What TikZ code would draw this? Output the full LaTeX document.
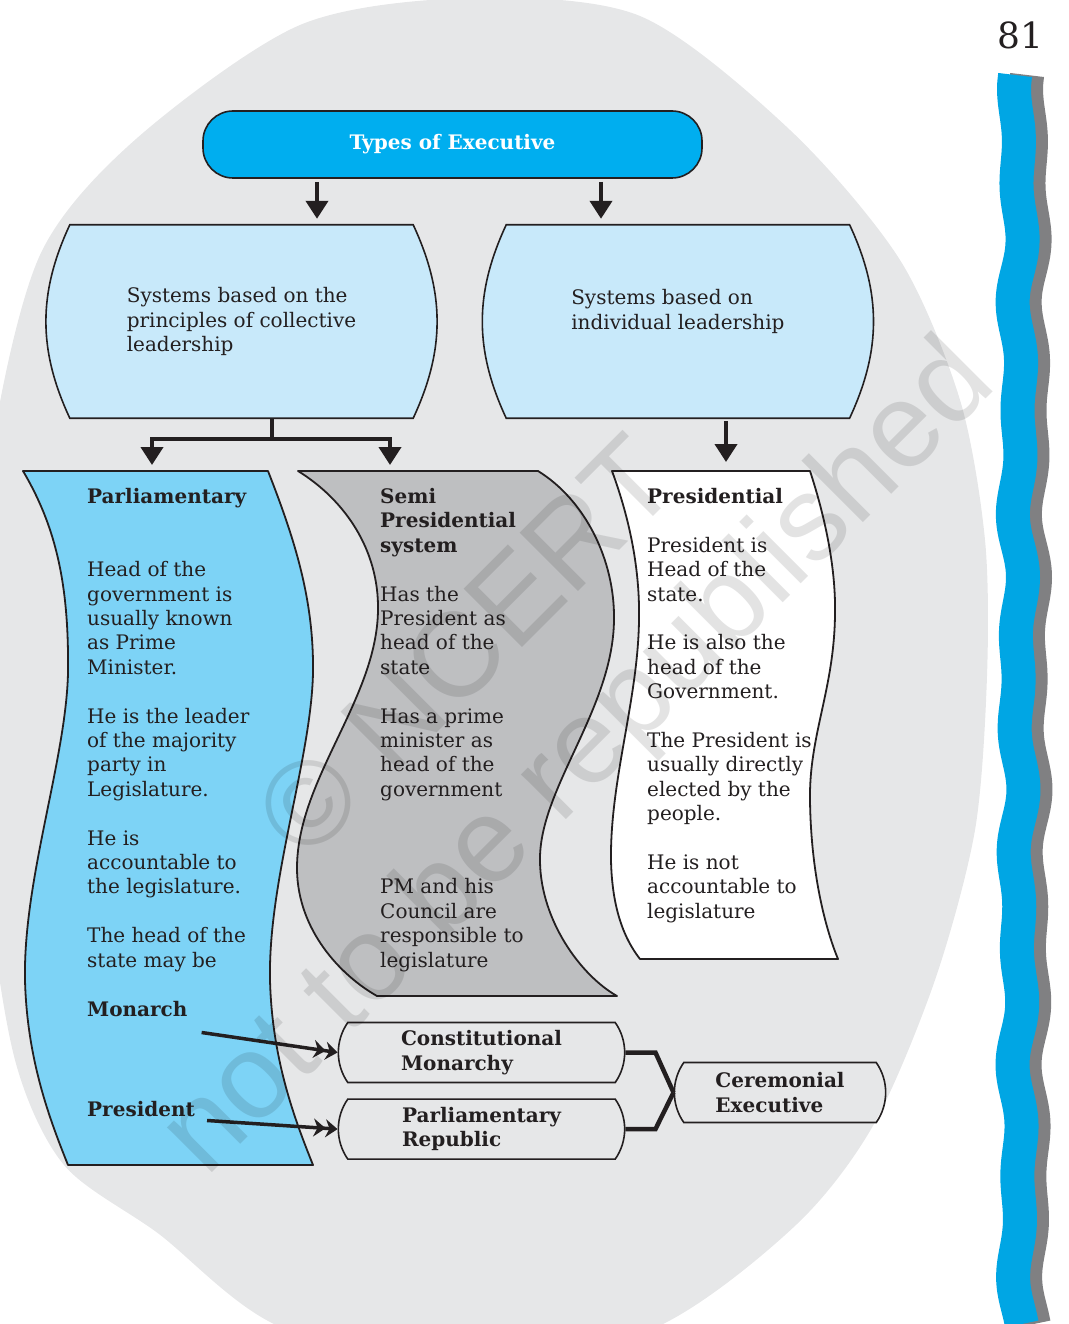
\documentclass[tikz,border=0pt]{standalone}
\usepackage{fontspec}
\setmainfont{DejaVu Serif}
\newfontfamily\markfont{Liberation Sans}
\usetikzlibrary{arrows.meta, calc, positioning, shapes.misc, backgrounds}

\definecolor{bggray}{RGB}{230,231,232}
\definecolor{inkdark}{RGB}{35,31,32}
\definecolor{titlecyan}{RGB}{0,174,239}
\definecolor{boxblue}{RGB}{200,233,250}
\definecolor{parlblue}{RGB}{125,211,246}
\definecolor{semigray}{RGB}{190,191,193}
\definecolor{stripblue}{RGB}{0,166,228}
\definecolor{stripgray}{RGB}{128,128,130}

\begin{document}
\begin{tikzpicture}[x=1pt, y=-1pt, font=\fontsize{20}{24.4}\selectfont, text=inkdark,
    arr/.style={draw=inkdark, line width=4pt, -{Triangle[length=18pt,width=22pt]}},
    dblarr/.style={draw=inkdark, line width=3.5pt, -{Stealth[length=12pt,width=18pt,inset=4pt] Stealth[length=12pt,width=18pt,inset=4pt]}},
    sysbox/.style={rectangle, minimum width=343pt, minimum height=193pt, align=left},
    smallbox/.style={draw=inkdark, line width=1.6pt, rounded rectangle, rounded rectangle arc length=70, minimum height=60pt, align=left, font=\fontsize{20}{24.4}\selectfont\bfseries},
    wave/.style={draw=inkdark, line width=1.8pt, line join=round},
    wavetext/.style={anchor=north west, inner sep=0pt, align=left}]
    \useasboundingbox (0,0) rectangle (1068,1324);

    % Background
    \begin{scope}[on background layer]
        \clip (0,0) rectangle (1068,1324);
        \fill[bggray] plot[smooth cycle] coordinates {(470,-2) (640,16) (790,130) (900,260) (960,400) (985,540) (987,676) (975,830) (935,980) (874,1124) (797,1224) (663,1324) (470,1385) (274,1324) (159,1234) (64,1165) (15,1060) (-12,880) (-15,650) (-8,450) (40,255) (136,139) (300,25)};
    \end{scope}

    % Page number and side strip
    \node[font=\fontsize{36}{36}\selectfont] (pagenum) at (1020,35) {81};
    \draw[line width=34pt, stripgray] plot[smooth, domain=75:1324, samples=140] ({1030+3*sin(3.3*\x)+2.5*sin(1.9*\x+40)}, \x);
    \draw[line width=34pt, stripblue] plot[smooth, domain=75:1324, samples=140] ({1018+3*sin(3.3*\x)+2.5*sin(1.9*\x+40)}, \x);

    % Top box
    \node[draw=inkdark, line width=1.6pt, fill=titlecyan, rounded corners=30pt, minimum width=499pt, minimum height=67pt, text=white, font=\fontsize{20}{24.4}\selectfont\bfseries] (title) at (452.5,144.5) {Types of Executive};

    % Second row
    \node[sysbox] (collective) at (241.5,321.5) {Systems based on the\\principles of collective\\leadership};
    \node[sysbox, right=93pt of collective] (individual) {Systems based on\\individual leadership\\\mbox{}};
    \begin{scope}[on background layer]
        \filldraw[draw=inkdark, line width=1.6pt, fill=boxblue] (collective.north west) -- (collective.north east) to[bend left=25] (collective.south east) -- (collective.south west) to[bend left=25] (collective.north west) -- cycle;
        \filldraw[draw=inkdark, line width=1.6pt, fill=boxblue] (individual.north west) -- (individual.north east) to[bend left=25] (individual.south east) -- (individual.south west) to[bend left=25] (individual.north west) -- cycle;
    \end{scope}

    \coordinate (t1) at ([xshift=-135.5pt]title.south);
    \coordinate (t2) at ([xshift=148.5pt]title.south);
    \draw[arr, shorten <=3pt, shorten >=6pt] (t1) -- (t1 |- collective.north);
    \draw[arr, shorten <=3pt, shorten >=6pt] (t2) -- (t2 |- individual.north);

    % Parliamentary
    \filldraw[wave, fill=parlblue] (23,471) -- (268,471)
        .. controls (295,540) and (314,600) .. (313,673)
        .. controls (311,760) and (268,880) .. (270,980)
        .. controls (272,1060) and (295,1120) .. (313,1165)
        -- (68,1165)
        .. controls (50,1120) and (27,1060) .. (25,980)
        .. controls (23,880) and (66,760) .. (68,673)
        .. controls (69,590) and (58,530) .. (23,471) -- cycle;
    \coordinate (parltop) at (152,471);
    \node[wavetext] (parltext) at (87,488) {\textbf{Parliamentary}\\[48.8pt]
        Head of the\\government is\\usually known\\as Prime\\Minister.\\[24.4pt]
        He is the leader\\of the majority\\party in\\Legislature.\\[24.4pt]
        He is\\accountable to\\the legislature.\\[24.4pt]
        The head of the\\state may be};
    \node[anchor=base west, inner sep=0pt, font=\fontsize{20}{24.4}\selectfont\bfseries] (monarch) at (87,1016) {Monarch};
    \node[anchor=base west, inner sep=0pt, font=\fontsize{20}{24.4}\selectfont\bfseries] (president) at (87,1116) {President};

    % Semi presidential
    \filldraw[wave, fill=semigray] (298,471) -- (538,471)
        .. controls (585,500) and (615,560) .. (614,620)
        .. controls (613,710) and (538,790) .. (540,862)
        .. controls (541,920) and (580,975) .. (617,996)
        -- (377,996)
        .. controls (340,975) and (298,930) .. (297,870)
        .. controls (296,780) and (377,700) .. (378,610)
        .. controls (379,550) and (345,500) .. (298,471) -- cycle;
    \coordinate (semitop) at (390,471);
    \node[wavetext] (semitext) at (380,488) {\textbf{Semi}\\\textbf{Presidential}\\\textbf{system}\\[24.4pt]
        Has the\\President as\\head of the\\state\\[24.4pt]
        Has a prime\\minister as\\head of the\\government\\[73.2pt]
        PM and his\\Council are\\responsible to\\legislature};

    % Presidential
    \filldraw[wave, fill=white] (612,471) -- (810,471)
        .. controls (826,520) and (836,570) .. (835,615)
        .. controls (834,690) and (809,735) .. (810,800)
        .. controls (811,880) and (828,935) .. (838,959)
        -- (640,959)
        .. controls (625,940) and (612,910) .. (611,860)
        .. controls (610,780) and (638,700) .. (639,620)
        .. controls (640,570) and (630,520) .. (612,471) -- cycle;
    \coordinate (prestop) at (726,471);
    \node[wavetext] (prestext) at (647,488) {\textbf{Presidential}\\[24.4pt]
        President is\\Head of the\\state.\\[24.4pt]
        He is also the\\head of the\\Government.\\[24.4pt]
        The President is\\usually directly\\elected by the\\people.\\[24.4pt]
        He is not\\accountable to\\legislature};

    % Arrows to the three systems
    \coordinate (c1) at ([xshift=30.5pt]collective.south);
    \draw[arr, shorten >=6pt, line join=miter] (c1) -- ++(0,21) -| (parltop);
    \draw[arr, shorten >=6pt, line join=miter] (c1) -- ++(0,21) -| (semitop);
    \draw[arr, shorten <=3pt, shorten >=9pt] (prestop |- individual.south) -- (prestop);

    % Ceremonial heads
    \node[smallbox, minimum width=293pt] (cm) at (481.5,1052.5) {Constitutional\\Monarchy};
    \node[smallbox, minimum width=293pt, below=15pt of cm] (pr) {Parliamentary\\Republic};
    \node[smallbox, minimum width=218pt] (ce) at (780,1092.5) {Ceremonial\\Executive};

    \draw[dblarr] ([xshift=14pt,yshift=-16pt]monarch.south east) -- (cm.west);
    \draw[dblarr] ([xshift=12pt,yshift=-4pt]president.south east) -- (pr.west);
    \draw[draw=inkdark, line width=4.5pt] (cm.east) -- ++(30,0) -- (ce.west);
    \draw[draw=inkdark, line width=4.5pt] (pr.east) -- ++(30,0) -- (ce.west);

    % Watermark
    \node[rotate=45, align=center, text=black, text opacity=0.11, font=\markfont\fontsize{120}{152}\selectfont] (mark) at (528,708) {\textcopyright\ NCERT\\not to be republished};
\end{tikzpicture}
\end{document}
